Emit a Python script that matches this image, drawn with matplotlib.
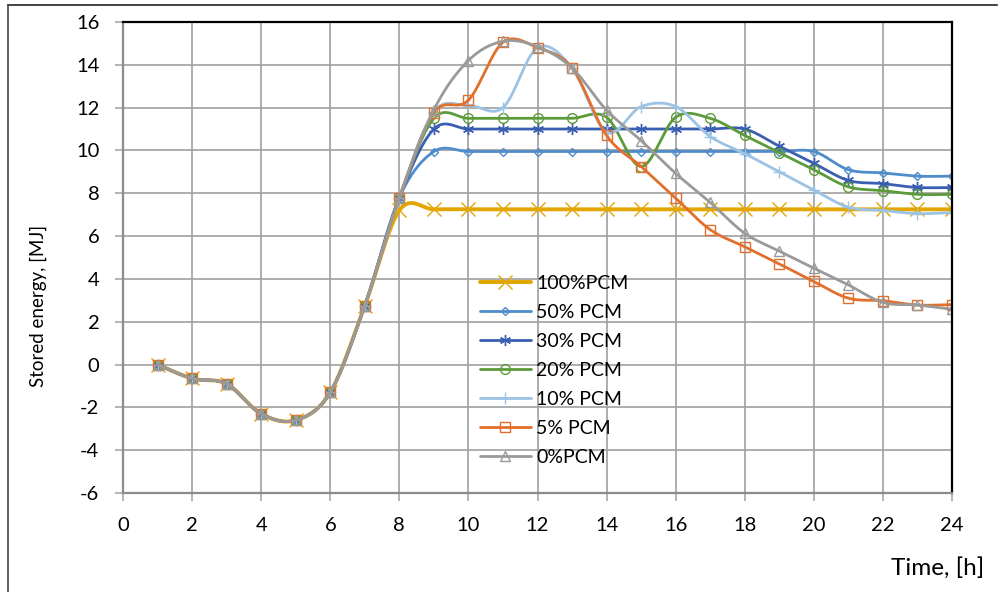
import numpy as np
import matplotlib.pyplot as plt
from matplotlib.lines import Line2D

plt.rcParams['font.family'] = ['Lato', 'DejaVu Sans']
plt.rcParams['axes.unicode_minus'] = False

hours = list(range(1, 25))
common = [0.0, -0.65, -0.9, -2.3, -2.6, -1.3, 2.75, 7.8]

pcm100 = [0.0, -0.65, -0.9, -2.3, -2.6, -1.3, 2.75, 7.2,
          7.25, 7.25, 7.25, 7.25, 7.25, 7.25, 7.25, 7.25,
          7.25, 7.25, 7.25, 7.25, 7.25, 7.25, 7.25, 7.25]
pcm50 = common + [9.95, 9.95, 9.95, 9.95, 9.95, 9.95, 9.95, 9.95,
                  9.95, 9.95, 9.95, 9.95, 9.1, 8.95, 8.8, 8.8]
pcm30 = common + [11.0, 11.0, 11.0, 11.0, 11.0, 11.0, 11.0, 11.0,
                  11.0, 11.0, 10.2, 9.4, 8.6, 8.45, 8.27, 8.27]
pcm20 = common + [11.5, 11.5, 11.5, 11.5, 11.5, 11.55, 9.25, 11.55,
                  11.5, 10.7, 9.9, 9.1, 8.3, 8.12, 7.95, 7.95]
pcm10 = common + [11.8, 12.1, 12.0, 14.8, 13.85, 10.85, 12.05, 12.05,
                  10.65, 9.85, 9.0, 8.15, 7.35, 7.2, 7.05, 7.1]
pcm5 = common + [11.76, 12.35, 15.05, 14.8, 13.85, 10.7, 9.25, 7.77,
                 6.3, 5.5, 4.7, 3.88, 3.1, 2.98, 2.78, 2.8]
pcm0 = common + [11.9, 14.2, 15.1, 14.85, 13.85, 11.88, 10.46, 8.93,
                 7.57, 6.13, 5.3, 4.5, 3.72, 2.9, 2.78, 2.58]

labels = ['100%PCM', '50% PCM', '30% PCM', '20% PCM', '10% PCM', '5% PCM', '0%PCM']
series = [pcm100, pcm50, pcm30, pcm20, pcm10, pcm5, pcm0]
colors = ['#E3A600', '#4F8CCB', '#3A5FB0', '#5C9B3A', '#9CC2E5', '#E2702C', '#9A9A9A']
markers = ['x', 'D', (6, 2, 0), 'o', '+', 's', '^']
msizes = [10, 4.5, 8, 7, 9, 7, 7]
widths = [2.8, 2.0, 2.0, 2.0, 2.0, 2.0, 2.0]


def smooth(x, y, n=20):
    # excel-like bezier smoothing (catmull-rom, tension 1/6)
    p = np.column_stack([x, y]).astype(float)
    out = []
    for i in range(len(p) - 1):
        p0 = p[i - 1] if i > 0 else p[i]
        p3 = p[i + 2] if i + 2 < len(p) else p[i + 1]
        c1 = p[i] + (p[i + 1] - p0) / 6
        c2 = p[i + 1] - (p3 - p[i]) / 6
        t = np.linspace(0, 1, n, endpoint=False)[:, None]
        seg = ((1 - t) ** 3 * p[i] + 3 * (1 - t) ** 2 * t * c1
               + 3 * (1 - t) * t ** 2 * c2 + t ** 3 * p[i + 1])
        out.append(seg)
    out.append(p[-1:])
    out = np.vstack(out)
    return out[:, 0], out[:, 1]


fig = plt.figure(figsize=(10.06, 5.92), dpi=100)
ax = fig.add_axes([123 / 1006, 1 - 493 / 592, 829 / 1006, 471 / 592])

n = 20
for vals, lab, c, m, ms, lw in zip(series, labels, colors, markers, msizes, widths):
    sx, sy = smooth(hours, vals, n)
    ax.plot(sx, sy, color=c, lw=lw, label=lab, marker=m, markersize=ms,
            markevery=list(range(0, len(sx), n)), markerfacecolor='none',
            markeredgecolor=c, markeredgewidth=1.0, solid_capstyle='round')

ax.set_xlim(0, 24)
ax.set_ylim(-6, 16)
ax.set_xticks(range(0, 25, 2))
ax.set_yticks(range(-6, 17, 2))
ax.grid(True, color='#A0A0A0', lw=1.2)
ax.set_axisbelow(True)
ax.tick_params(direction='out', length=6, width=1.1, color='#A0A0A0',
               labelsize=14.5, pad=11, labelcolor='black')
for side in ['left', 'bottom']:
    ax.spines[side].set_color('#8C8C8C')
    ax.spines[side].set_linewidth(1.6)
for side in ['top', 'right']:
    ax.spines[side].set_color('black')
    ax.spines[side].set_linewidth(1.6)

leg = ax.legend(loc='upper left', bbox_to_anchor=(470 / 1006, 1 - 265 / 592),
                bbox_transform=fig.transFigure, frameon=False, fontsize=14,
                numpoints=1, handlelength=2.65, labelspacing=0.62, handletextpad=0.25,
                borderpad=0)

fig.text(38 / 1006, 1 - 306 / 592, 'Stored energy, [MJ]', rotation=90,
         ha='center', va='center', fontsize=13.5)
fig.text(938 / 1006, 1 - 568 / 592, 'Time, [h]', ha='center', va='center',
         fontsize=17.5)

# outer chart border (top and left visible)
fig.add_artist(Line2D([8 / 1006, 997 / 1006], [1 - 5 / 592, 1 - 5 / 592],
                      color='#222222', lw=1.2, transform=fig.transFigure))
fig.add_artist(Line2D([8 / 1006, 8 / 1006], [1 - 5 / 592, 0],
                      color='#444444', lw=1.2, transform=fig.transFigure))

fig.savefig('out.png', dpi=100)
